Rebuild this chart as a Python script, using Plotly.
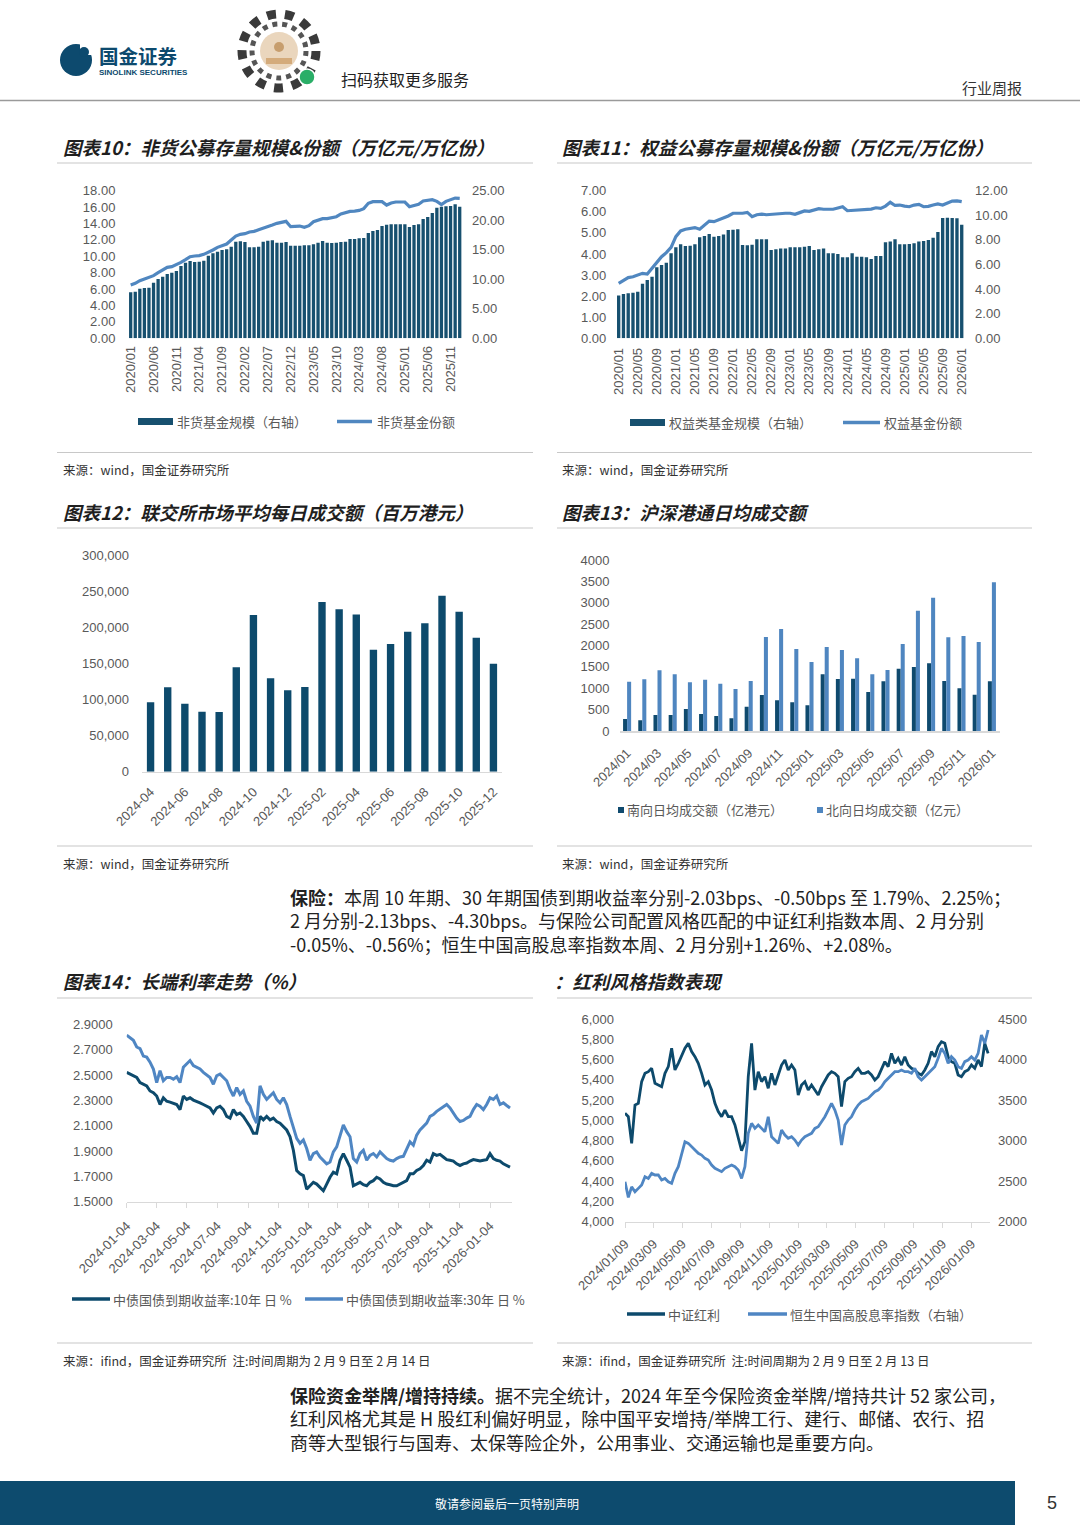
import plotly.graph_objects as go
import pandas as pd

W, H = 1080, 1527

# ---------------- data ----------------
fund_months = pd.date_range("2020-01-01", "2026-01-01", freq="MS").strftime("%Y/%m").tolist()
# 非货基金规模（右轴, 万亿元）
nonmmf_scale = [7.79, 7.90, 8.41, 8.52, 8.58, 9.42, 10.04, 10.44, 10.89, 11.12,
                11.40, 12.25, 12.81, 13.09, 12.92, 12.98, 13.15, 13.99, 14.39, 14.67,
                14.95, 15.07, 15.52, 16.36, 16.42, 16.31, 15.41, 15.41, 15.52, 16.36,
                16.53, 16.59, 16.20, 16.20, 16.31, 15.69, 15.69, 15.69, 15.74, 15.74,
                15.91, 16.20, 16.48, 16.20, 16.14, 16.20, 16.31, 16.36, 16.82, 16.82,
                16.93, 16.99, 17.83, 18.17, 18.34, 19.02, 19.24, 19.30, 19.30, 19.30,
                19.30, 18.85, 19.19, 19.30, 20.20, 20.54, 21.22, 22.12, 22.29, 22.35,
                22.40, 22.69, 22.29]
# 非货基金份额（左轴, 万亿份）
nonmmf_share = [6.50, 6.70, 7.03, 7.23, 7.35, 7.64, 8.00, 8.37, 8.65, 8.74,
                8.98, 9.26, 9.59, 9.95, 10.04, 10.08, 10.24, 10.48, 10.77, 11.09,
                11.30, 11.50, 11.99, 12.47, 12.68, 12.76, 12.96, 13.04, 13.25, 13.41,
                13.65, 13.81, 14.02, 14.18, 14.26, 13.61, 13.61, 13.69, 13.53, 13.73,
                14.22, 14.42, 14.59, 14.59, 14.75, 14.83, 15.16, 15.36, 15.48, 15.52,
                15.60, 15.81, 16.46, 16.66, 16.70, 16.66, 16.25, 16.50, 16.62, 16.66,
                16.62, 16.05, 16.25, 16.35, 16.74, 16.78, 16.90, 16.70, 16.30, 16.70,
                16.95, 17.10, 17.06]
# 权益类基金规模（右轴）
equity_scale = [3.47, 3.60, 3.66, 3.71, 3.79, 4.44, 4.74, 5.01, 5.77, 5.96,
                6.15, 6.91, 7.40, 7.64, 7.50, 7.53, 7.64, 8.21, 8.32, 8.48,
                8.26, 8.32, 8.43, 8.80, 8.83, 8.86, 7.59, 7.56, 7.61, 8.05,
                8.05, 8.05, 7.18, 7.23, 7.31, 7.31, 7.40, 7.40, 7.40, 7.45,
                7.50, 7.18, 7.23, 7.31, 6.91, 6.91, 6.85, 6.58, 6.58, 6.91,
                6.64, 6.64, 6.58, 6.45, 6.69, 6.69, 7.80, 7.86, 8.05, 7.64,
                7.64, 7.67, 7.72, 7.88, 7.91, 7.99, 8.18, 8.64, 9.78, 9.81,
                9.78, 9.75, 9.24]
# 权益基金份额（左轴）
equity_share = [2.61, 2.73, 2.88, 2.92, 2.99, 3.08, 3.05, 3.32, 3.63, 3.87,
                4.06, 4.31, 4.82, 5.09, 5.17, 5.21, 5.25, 5.17, 5.37, 5.56,
                5.53, 5.61, 5.72, 5.80, 5.93, 5.93, 5.93, 5.97, 5.77, 5.86,
                5.89, 5.86, 5.88, 5.91, 5.93, 5.93, 5.93, 5.88, 5.96, 6.04,
                6.02, 6.08, 6.15, 6.12, 6.13, 6.12, 6.18, 6.24, 6.05, 6.07,
                6.07, 6.08, 6.12, 6.13, 6.19, 6.16, 6.27, 6.45, 6.30, 6.32,
                6.27, 6.24, 6.32, 6.35, 6.24, 6.26, 6.32, 6.37, 6.32, 6.43,
                6.51, 6.52, 6.48]

hk_months = pd.date_range("2024-04-01", "2025-12-01", freq="MS").strftime("%Y-%m").tolist()
hk_turnover = [96000, 116800, 94150, 83100, 82600, 144500, 216900, 129200, 112600, 117200,
               234900, 224800, 217800, 168900, 176800, 193800, 205400, 243700, 221500, 185500,
               149500]

connect_months = pd.date_range("2024-01-01", "2026-01-01", freq="MS").strftime("%Y/%m").tolist()
southbound = [281, 250, 374, 374, 515, 398, 351, 296, 569, 842, 717, 671, 600,
              1326, 1216, 1224, 912, 1162, 1458, 1497, 1583, 1170, 998, 850, 1162]
northbound = [1154, 1209, 1419, 1326, 1138, 1201, 1107, 982, 1170, 2199, 2386, 1918, 1614,
              1965, 1895, 1700, 1326, 1427, 2035, 2815, 3119, 2191, 2222, 2082, 3478]

cgb10 = [2.521, 2.507, 2.494, 2.480, 2.440, 2.427, 2.414, 2.374, 2.360, 2.334,
         2.267, 2.320, 2.293, 2.286, 2.275, 2.267, 2.227, 2.334, 2.307, 2.320,
         2.302, 2.293, 2.280, 2.267, 2.253, 2.240, 2.200, 2.240, 2.253, 2.227,
         2.173, 2.160, 2.227, 2.187, 2.200, 2.173, 2.133, 2.093, 2.040, 2.040,
         2.173, 2.146, 2.173, 2.146, 2.160, 2.133, 2.120, 2.093, 2.066, 2.013,
         1.906, 1.746, 1.720, 1.706, 1.599, 1.626, 1.653, 1.639, 1.613, 1.586,
         1.639, 1.693, 1.733, 1.720, 1.827, 1.879, 1.827, 1.773, 1.626, 1.639,
         1.653, 1.634, 1.626, 1.653, 1.666, 1.693, 1.680, 1.653, 1.639, 1.634,
         1.626, 1.626, 1.639, 1.653, 1.666, 1.720, 1.720, 1.746, 1.760, 1.786,
         1.827, 1.813, 1.879, 1.866, 1.874, 1.853, 1.832, 1.827, 1.821, 1.799,
         1.786, 1.799, 1.805, 1.821, 1.832, 1.827, 1.821, 1.827, 1.832, 1.879,
         1.840, 1.827, 1.821, 1.799, 1.786, 1.773]
cgb30 = [2.815, 2.793, 2.774, 2.721, 2.708, 2.649, 2.641, 2.601, 2.547, 2.440,
         2.534, 2.454, 2.480, 2.480, 2.467, 2.486, 2.440, 2.561, 2.587, 2.614,
         2.574, 2.561, 2.547, 2.521, 2.499, 2.480, 2.427, 2.494, 2.507, 2.480,
         2.454, 2.387, 2.334, 2.400, 2.347, 2.374, 2.293, 2.253, 2.173, 2.120,
         2.414, 2.347, 2.307, 2.334, 2.360, 2.307, 2.280, 2.320, 2.267, 2.173,
         2.093, 2.000, 1.960, 1.987, 1.920, 1.827, 1.879, 1.893, 1.853, 1.827,
         1.799, 1.813, 1.893, 1.933, 2.026, 2.106, 2.053, 2.013, 1.840, 1.813,
         1.879, 1.906, 1.827, 1.866, 1.880, 1.853, 1.893, 1.866, 1.840, 1.827,
         1.821, 1.840, 1.853, 1.858, 1.920, 1.973, 1.946, 2.026, 2.066, 2.093,
         2.120, 2.173, 2.187, 2.213, 2.232, 2.253, 2.267, 2.240, 2.200, 2.160,
         2.133, 2.141, 2.160, 2.173, 2.227, 2.267, 2.253, 2.227, 2.267, 2.320,
         2.307, 2.334, 2.267, 2.280, 2.259, 2.240]
bond_dates = pd.date_range("2024-01-04", "2026-02-13", periods=len(cgb10))
bond_ticks = ["2024-01-04", "2024-03-04", "2024-05-04", "2024-07-04", "2024-09-04",
              "2024-11-04", "2025-01-04", "2025-03-04", "2025-05-04", "2025-07-04",
              "2025-09-04", "2025-11-04", "2026-01-04"]

csi_dividend = [5069, 5036, 4773, 5151, 5168, 5382, 5464, 5480, 5513, 5365,
                5349, 5332, 5464, 5530, 5711, 5497, 5563, 5645, 5711, 5760,
                5678, 5628, 5563, 5464, 5349, 5382, 5299, 5168, 5086, 5036,
                5102, 5036, 5036, 4954, 4823, 4700, 4790, 5431, 5760, 5299,
                5480, 5382, 5431, 5316, 5464, 5349, 5448, 5546, 5596, 5497,
                5546, 5497, 5250, 5349, 5382, 5299, 5349, 5299, 5250, 5332,
                5398, 5448, 5480, 5464, 5431, 5135, 5382, 5415, 5431, 5480,
                5513, 5464, 5464, 5480, 5448, 5398, 5431, 5513, 5579, 5530,
                5661, 5563, 5612, 5546, 5628, 5546, 5513, 5497, 5464, 5448,
                5497, 5563, 5678, 5628, 5727, 5776, 5760, 5628, 5579, 5563,
                5448, 5431, 5480, 5497, 5546, 5513, 5596, 5530, 5760, 5661]
hs_high_div = [2493, 2300, 2430, 2370, 2411, 2452, 2555, 2534, 2596, 2576,
               2576, 2514, 2534, 2493, 2473, 2596, 2678, 2843, 2987, 2966,
               2925, 2884, 2843, 2822, 2781, 2761, 2699, 2658, 2637, 2617,
               2658, 2678, 2699, 2678, 2637, 2534, 2678, 3090, 3213, 3151,
               3192, 3151, 3110, 3295, 3048, 3007, 2966, 3131, 3069, 3028,
               3048, 3007, 2946, 3007, 3048, 3069, 3090, 3151, 3172, 3233,
               3295, 3377, 3460, 3377, 3254, 2946, 3192, 3254, 3295, 3377,
               3439, 3480, 3501, 3521, 3562, 3604, 3624, 3665, 3727, 3768,
               3809, 3850, 3850, 3871, 3850, 3850, 3830, 3891, 3789, 3747,
               3789, 3830, 3871, 3912, 4015, 4138, 4076, 3953, 4035, 3994,
               3912, 3891, 3974, 3994, 4035, 3994, 4076, 4303, 4200, 4364]
div_dates = pd.date_range("2024-01-09", "2026-02-13", periods=len(csi_dividend))
div_ticks = ["2024-01-09", "2024-03-09", "2024-05-09", "2024-07-09", "2024-09-09",
             "2024-11-09", "2025-01-09", "2025-03-09", "2025-05-09", "2025-07-09",
             "2025-09-09", "2025-11-09", "2026-01-09"]

# ---------------- style ----------------
NAVY = "#0d4a6c"
BAR10 = "#17506f"
LIGHT = "#5087c0"
GREY = "#595959"
CJK = "Noto Sans CJK SC"
LAT = "Liberation Sans, Arial, sans-serif"
TICKF = dict(family=LAT, size=13, color=GREY)


def px(x):
    return x / W


def py(y):
    return 1 - y / H


def base_axis(**kw):
    d = dict(showgrid=False, zeroline=False, showline=False, ticks="", tickfont=TICKF,
             fixedrange=True, automargin=False)
    d.update(kw)
    return d


fig = go.Figure()

# chart 10
fig.add_trace(go.Bar(x=fund_months, y=nonmmf_scale, width=0.72, marker=dict(color=BAR10, line_width=0),
                     xaxis="x", yaxis="y", showlegend=False))
fig.add_trace(go.Scatter(x=fund_months, y=nonmmf_share, mode="lines", line=dict(color=LIGHT, width=3.2),
                         xaxis="x", yaxis="y2", showlegend=False))
# chart 11
fig.add_trace(go.Bar(x=fund_months, y=equity_scale, width=0.70, marker=dict(color=BAR10, line_width=0),
                     xaxis="x2", yaxis="y3", showlegend=False))
fig.add_trace(go.Scatter(x=fund_months, y=equity_share, mode="lines", line=dict(color=LIGHT, width=3.2),
                         xaxis="x2", yaxis="y4", showlegend=False))
# chart 12
fig.add_trace(go.Bar(x=hk_months, y=hk_turnover, width=0.43, marker=dict(color=NAVY, line_width=0),
                     xaxis="x3", yaxis="y5", showlegend=False))
# chart 13
fig.add_trace(go.Bar(x=connect_months, y=southbound, width=0.265, offset=-0.265,
                     marker=dict(color="#0f4a6e", line_width=0), xaxis="x4", yaxis="y6", showlegend=False))
fig.add_trace(go.Bar(x=connect_months, y=northbound, width=0.265, offset=0.0,
                     marker=dict(color="#4f86c0", line_width=0), xaxis="x4", yaxis="y6", showlegend=False))
# chart 14
fig.add_trace(go.Scatter(x=bond_dates, y=cgb10, mode="lines", line=dict(color=NAVY, width=3),
                         xaxis="x5", yaxis="y7", showlegend=False))
fig.add_trace(go.Scatter(x=bond_dates, y=cgb30, mode="lines", line=dict(color="#4f86c3", width=3),
                         xaxis="x5", yaxis="y7", showlegend=False))
# chart 15
fig.add_trace(go.Scatter(x=div_dates, y=csi_dividend, mode="lines", line=dict(color=NAVY, width=2.8),
                         xaxis="x6", yaxis="y8", showlegend=False))
fig.add_trace(go.Scatter(x=div_dates, y=hs_high_div, mode="lines", line=dict(color="#4f86c3", width=2.8),
                         xaxis="x6", yaxis="y9", showlegend=False))

layout = dict(
    width=W, height=H, margin=dict(l=0, r=0, t=0, b=0),
    paper_bgcolor="white", plot_bgcolor="white", barmode="overlay", showlegend=False,
    hovermode=False,
    # chart 10
    xaxis=base_axis(domain=[px(128.4), px(462)], anchor="y", type="category",
                    range=[-0.5, len(fund_months) - 0.5], tickmode="array", tickvals=fund_months[::5],
                    tickangle=-90, ticklabelstandoff=4),
    yaxis=base_axis(domain=[py(338.3), py(190.7)], anchor="x", side="right", range=[0, 25], dtick=5,
                    tickformat=".2f", ticklabelstandoff=9),
    yaxis2=base_axis(overlaying="y", anchor="x", side="left", range=[0, 18], dtick=2,
                     tickformat=".2f", ticklabelstandoff=12),
    # chart 11
    xaxis2=base_axis(domain=[px(616.3), px(964.1)], anchor="y3", type="category",
                     range=[-0.5, len(fund_months) - 0.5], tickmode="array", tickvals=fund_months[::4],
                     tickangle=-90, ticklabelstandoff=6),
    yaxis3=base_axis(domain=[py(338.3), py(190.7)], anchor="x2", side="right", range=[0, 12], dtick=2,
                     tickformat=".2f", ticklabelstandoff=10),
    yaxis4=base_axis(overlaying="y3", anchor="x2", side="left", range=[0, 7], dtick=1,
                     tickformat=".2f", ticklabelstandoff=9),
    # chart 12
    xaxis3=base_axis(domain=[px(142), px(502)], anchor="y5", type="category",
                     range=[-0.5, len(hk_months) - 0.5], tickmode="array", tickvals=hk_months[::2],
                     tickangle=-45, showline=True, linecolor="#d9d9d9", linewidth=1.5, ticklabelstandoff=6),
    yaxis5=base_axis(domain=[py(771.7), py(555)], anchor="x3", range=[0, 300000], dtick=50000,
                     tickformat=",", ticklabelstandoff=12),
    # chart 13
    xaxis4=base_axis(domain=[px(619.5), px(999.5)], anchor="y6", type="category",
                     range=[-0.5, len(connect_months) - 0.5], tickmode="array", tickvals=connect_months[::2],
                     tickangle=-45, showline=True, linecolor="#d9d9d9", linewidth=1.5, ticklabelstandoff=8),
    yaxis6=base_axis(domain=[py(731), py(560)], anchor="x4", range=[0, 4000], dtick=500,
                     tickformat="d", ticklabelstandoff=9),
    # chart 14
    xaxis5=base_axis(domain=[px(126.7), px(512)], anchor="y7", type="date",
                     range=["2024-01-04", "2026-02-17"], tickmode="array", tickvals=bond_ticks,
                     tickformat="%Y-%m-%d", tickangle=-45, showline=True, linecolor="#d9d9d9", linewidth=1.5,
                     ticks="outside", ticklen=5, tickcolor="#d9d9d9", ticklabelstandoff=5),
    yaxis7=base_axis(domain=[py(1201.7), py(1024.3)], anchor="x5", range=[1.5, 2.9], tick0=1.5, dtick=0.2,
                     tickformat=".4f", ticklabelstandoff=13),
    # chart 15
    xaxis6=base_axis(domain=[px(625), px(990)], anchor="y8", type="date",
                     range=["2024-01-09", "2026-02-17"], tickmode="array", tickvals=div_ticks,
                     tickformat="%Y/%m/%d", tickangle=-45, showline=True, linecolor="#d9d9d9", linewidth=1.5,
                     ticks="outside", ticklen=5, tickcolor="#d9d9d9", ticklabelstandoff=3),
    yaxis8=base_axis(domain=[py(1221.7), py(1019)], anchor="x6", side="left", range=[4000, 6000], dtick=200,
                     tickformat=",", ticklabelstandoff=10),
    yaxis9=base_axis(overlaying="y8", anchor="x6", side="right", range=[2000, 4500], dtick=500,
                     tickformat="d", ticklabelstandoff=7),
)
fig.update_layout(**layout)

shapes = []
annots = []


def hline(x0, x1, y, color="#c8c8c8", w=1.2):
    shapes.append(dict(type="line", xref="paper", yref="paper", x0=px(x0), x1=px(x1), y0=py(y), y1=py(y),
                       line=dict(color=color, width=w)))


def rect(x0, x1, y0, y1, color):
    shapes.append(dict(type="rect", xref="paper", yref="paper", x0=px(x0), x1=px(x1), y0=py(y1), y1=py(y0),
                       fillcolor=color, line=dict(width=0)))


def circle(cx, cy, r, fill=None, line=None):
    d = dict(type="circle", xref="paper", yref="paper", x0=px(cx - r), x1=px(cx + r), y0=py(cy + r),
             y1=py(cy - r))
    if fill:
        d["fillcolor"] = fill
    d["line"] = line if line else dict(width=0)
    shapes.append(d)


def text(x, y, s, size=13, color=GREY, family=CJK, anchor="left", weight="normal", style="normal"):
    annots.append(dict(x=px(x), y=py(y), xref="paper", yref="paper", text=s, showarrow=False,
                       xanchor=anchor, yanchor="middle", align="left", borderpad=0,
                       font=dict(family=family, size=size, color=color, weight=weight, style=style)))


# ---------------- header ----------------
circle(76, 60, 16, fill="#0d4a6e")
rect(80, 93, 43, 55, "white")
circle(84, 52, 5, fill="#0d4a6e")
text(98, 55, "国金证券", size=19.5, color="#0d4a6e", weight="bold")
text(98, 72.5, "SINOLINK SECURITIES", size=8, color="#0d4a6e", family=LAT, weight="bold")
circle(279, 51, 37, line=dict(color="#3a3a3a", width=9, dash="dot"))
circle(279, 51, 27, line=dict(color="#555555", width=5, dash="dot"))
circle(279, 51, 19, fill="#ead6bd")
circle(279, 47, 5, fill="#c79e6e")
rect(266, 292, 58, 64, "#d4ab7b")
circle(307, 77, 8, fill="#2aae67", line=dict(color="white", width=1.5))
text(340, 79, "扫码获取更多服务", size=16, color="#222222")
text(1023, 88, "行业周报", size=15, color="#333333", anchor="right")
hline(0, 1080, 100.5, color="#9a9a9a", w=1.5)

# ---------------- section lines ----------------
for (l, r) in [(57, 533), (557, 1032)]:
    hline(l, r, 163)
    hline(l, r, 452.5)
    hline(l, r, 528)
    hline(l, r, 846)
    hline(l, r, 998)
    hline(l, r, 1343)

# ---------------- titles ----------------
TT = dict(size=18.5, color="#1f1f1f", weight="bold", style="italic")
text(62, 147, "图表10：非货公募存量规模&份额（万亿元/万亿份）", **TT)
text(561, 147, "图表11：权益公募存量规模&份额（万亿元/万亿份）", **TT)
text(62, 512, "图表12：联交所市场平均每日成交额（百万港元）", **TT)
text(561, 512, "图表13：沪深港通日均成交额", **TT)
text(62, 981, "图表14：长端利率走势（%）", **TT)
text(553, 981, "：红利风格指数表现", **TT)

# ---------------- sources ----------------
SRC = dict(size=12.5, color="#333333")
text(62, 469, "来源：wind，国金证券研究所", **SRC)
text(561, 469, "来源：wind，国金证券研究所", **SRC)
text(62, 863, "来源：wind，国金证券研究所", **SRC)
text(561, 863, "来源：wind，国金证券研究所", **SRC)
text(62, 1360, "来源：ifind，国金证券研究所  注:时间周期为 2 月 9 日至 2 月 14 日", **SRC)
text(561, 1360, "来源：ifind，国金证券研究所  注:时间周期为 2 月 9 日至 2 月 13 日", **SRC)

# ---------------- legends ----------------
rect(138, 173, 418, 425, BAR10)
text(176, 421.5, "非货基金规模（右轴）")
hline(337, 372, 421.5, color=LIGHT, w=3.5)
text(376, 421.5, "非货基金份额")

rect(630, 665, 419, 426, BAR10)
text(668, 422.5, "权益类基金规模（右轴）")
hline(843, 880, 422.5, color=LIGHT, w=3.5)
text(883, 422.5, "权益基金份额")

rect(618, 624, 807, 813, "#0f4a6e")
text(626, 810, "南向日均成交额（亿港元）")
rect(817, 823, 807, 813, "#4f86c0")
text(825, 810, "北向日均成交额（亿元）")

hline(72, 110, 1299, color=NAVY, w=3.5)
text(112, 1299, "中债国债到期收益率:10年 日 %")
hline(305, 343, 1299, color="#4f86c3", w=3.5)
text(345, 1299, "中债国债到期收益率:30年 日 %")

hline(627, 665, 1314, color=NAVY, w=3.5)
text(667, 1314, "中证红利")
hline(748, 787, 1314, color="#4f86c3", w=3.5)
text(789, 1314, "恒生中国高股息率指数（右轴）")

# ---------------- paragraphs (one multi-line block each) ----------------
PF = dict(size=18, color="#222222")
text(289, 920,
     "<b>保险：</b>本周 10 年期、30 年期国债到期收益率分别-2.03bps、-0.50bps 至 1.79%、2.25%；<br>"
     "2 月分别-2.13bps、-4.30bps。与保险公司配置风格匹配的中证红利指数本周、2 月分别<br>"
     "-0.05%、-0.56%；恒生中国高股息率指数本周、2 月分别+1.26%、+2.08%。", **PF)
text(289, 1418,
     "<b>保险资金举牌/增持持续。</b>据不完全统计，2024 年至今保险资金举牌/增持共计 52 家公司，<br>"
     "红利风格尤其是 H 股红利偏好明显，除中国平安增持/举牌工行、建行、邮储、农行、招<br>"
     "商等大型银行与国寿、太保等险企外，公用事业、交通运输也是重要方向。", **PF)

# ---------------- footer ----------------
rect(0, 1015, 1481, 1525, "#0d4b6e")
text(507, 1503, "敬请参阅最后一页特别声明", size=12, color="white", anchor="center")
text(1052, 1503, "5", size=18, color="#333333", family=LAT, anchor="center")

fig.update_layout(shapes=shapes, annotations=annots)
fig.write_html("out.html", config={"displayModeBar": False, "staticPlot": True},
               post_script="document.body.style.margin='0px';")
